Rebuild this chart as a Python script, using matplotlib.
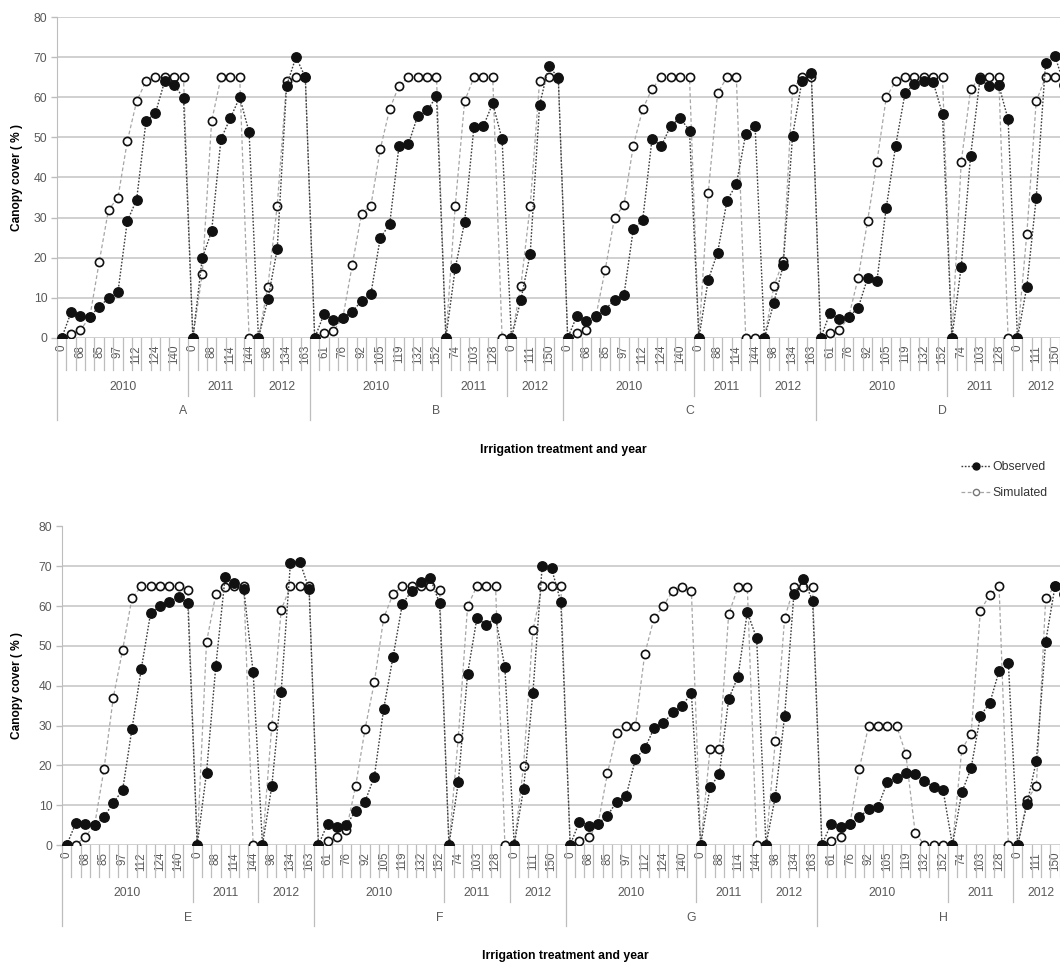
import matplotlib
matplotlib.use("Agg")
import matplotlib.pyplot as plt
import matplotlib.transforms as mtransforms
from matplotlib.lines import Line2D

plt.rcParams['font.family'] = ['Liberation Sans', 'DejaVu Sans']

# days after sowing for each season (categories)
days_2010 = [0, 61, 68, 76, 85, 92, 97, 105, 112, 119, 124, 132, 140, 152]
days_2011 = [0, 74, 88, 103, 114, 128, 144]
days_2012 = [0, 98, 111, 134, 150, 163]
years = ['2010', '2011', '2012']

top_treatments = ['A', 'B', 'C', 'D']
bottom_treatments = ['E', 'F', 'G', 'H']

# canopy cover (%): 2010 | 2011 | 2012
obs_A = [0, 6.4, 5.6, 5.3, 7.8, 9.9, 11.4, 29.1, 34.5, 54.1, 56.0, 64.1, 63.1, 59.8,
         0, 19.9, 26.6, 49.6, 54.8, 60.0, 51.3,
         0, 9.6, 22.1, 62.9, 70.0, 65.0]
sim_A = [0, 1.0, 2.0, 5.2, 18.9, 32.0, 34.9, 49.0, 59.0, 64.0, 65, 65, 65, 65,
         0, 16.0, 54.0, 65, 65, 65, 0,
         0, 12.8, 32.9, 64.0, 65, 65]
obs_B = [0, 6.0, 4.5, 5.0, 6.6, 9.2, 11.0, 25.0, 28.3, 47.9, 48.3, 55.4, 56.7, 60.2,
         0, 17.4, 28.9, 52.7, 52.8, 58.5, 49.5,
         0, 9.5, 21.0, 58.1, 67.8, 64.8]
sim_B = [0, 1.2, 1.8, 5.0, 18.1, 31.0, 33.0, 47.1, 57.0, 62.9, 65, 65, 65, 65,
         0, 33.0, 59.0, 65, 65, 65, 0,
         0, 12.9, 33.0, 64.0, 65, 65]
obs_C = [0, 5.6, 4.2, 5.6, 7.1, 9.5, 10.6, 27.1, 29.3, 49.6, 47.9, 52.9, 54.8, 51.7,
         0, 14.5, 21.3, 34.2, 38.3, 50.8, 52.9,
         0, 8.8, 18.1, 50.4, 64.1, 66.0]
sim_C = [0, 1.2, 2.0, 5.3, 17.0, 30.0, 33.1, 47.9, 57.0, 62.1, 65, 65, 65, 65,
         0, 36.2, 61.0, 65, 65, 0, 0,
         0, 12.9, 19.2, 62.0, 65, 65]
obs_D = [0, 6.3, 4.8, 5.3, 7.5, 14.9, 14.3, 32.5, 47.9, 61.0, 63.3, 64.0, 63.8, 55.8,
         0, 17.8, 45.4, 64.5, 62.7, 63.1, 54.5,
         0, 12.8, 34.9, 68.5, 70.3, 63.0]
sim_D = [0, 1.2, 2.0, 5.3, 15.0, 29.1, 43.9, 60.0, 64.0, 65, 65, 65, 65, 65,
         0, 43.9, 62.0, 65, 65, 65, 0,
         0, 26.0, 59.0, 65, 65, 65]
obs_E = [0, 5.6, 5.4, 4.9, 7.0, 10.6, 13.8, 29.1, 44.2, 58.2, 60.0, 61.1, 62.2, 60.7,
         0, 18.2, 45.0, 67.4, 65.7, 64.2, 43.4,
         0, 14.8, 38.4, 70.9, 71.2, 64.3]
sim_E = [0, 0, 2.1, 5.0, 19.0, 37.0, 49.0, 62.0, 65, 65, 65, 65, 65, 64.0,
         0, 51.0, 63.0, 64.7, 65, 65, 0,
         0, 30.0, 59.0, 65, 65, 65]
obs_F = [0, 5.4, 4.6, 5.0, 8.6, 10.9, 17.2, 34.2, 47.2, 60.5, 63.8, 66.0, 67.0, 60.7,
         0, 15.7, 43.0, 57.0, 55.3, 57.1, 44.6,
         0, 14.1, 38.1, 70.1, 69.5, 61.0]
sim_F = [0, 1.1, 1.9, 3.8, 14.9, 29.1, 40.9, 57.0, 63.0, 65, 65, 65, 65, 64.0,
         0, 27.0, 60.0, 65, 65, 65, 0,
         0, 19.9, 53.9, 65, 65, 65]
obs_G = [0, 5.9, 4.8, 5.4, 7.4, 10.9, 12.3, 21.6, 24.3, 29.3, 30.6, 33.3, 35.0, 38.1,
         0, 14.5, 17.8, 36.7, 42.3, 58.5, 51.9,
         0, 12.1, 32.4, 63.1, 66.8, 61.4]
sim_G = [0, 1.1, 1.9, 5.4, 18.0, 28.1, 29.9, 29.9, 48.0, 57.0, 60.0, 63.9, 64.7, 63.9,
         0, 24.0, 24.0, 58.0, 64.7, 64.7, 0,
         0, 26.0, 57.0, 64.7, 64.7, 64.7]
obs_H = [0, 5.4, 4.6, 5.3, 7.0, 9.0, 9.6, 15.7, 16.9, 18.2, 17.8, 16.2, 14.5, 13.7,
         0, 13.2, 19.3, 32.5, 35.6, 43.7, 45.6,
         0, 10.3, 21.2, 51.1, 65.0, 63.0]
sim_H = [0, 1.1, 2.1, 5.3, 19.0, 29.9, 30.0, 30.0, 30.0, 22.9, 3.1, 0, 0, 0,
         0, 24.0, 27.9, 58.9, 62.8, 65.0, 0,
         0, 11.3, 14.9, 62.0, 65.0, 65.0]

GRAY_TXT = '#595959'
GRID = '#c8c8c8'
SEP = '#bdbdbd'

season_days = [days_2010, days_2011, days_2012]
block_days = days_2010 + days_2011 + days_2012
n_block = len(block_days)


def draw_panel(ax, treatments, obs_list, sim_list, ylab_x):
    obs = sum(obs_list, [])
    sim = sum(sim_list, [])
    x = list(range(len(obs)))
    n = len(x)

    ax.plot(x, sim, linestyle=(0, (3, 2)), color='#a6a6a6', lw=0.9,
            marker='o', ms=5.9, mfc='white', mec='#111111', mew=1.2, zorder=3)
    ax.plot(x, obs, linestyle=(0, (1.2, 1.2)), color='#3c3c3c', lw=1.0,
            marker='o', ms=6.8, mfc='#111111', mec='#111111', zorder=4)

    ax.set_xlim(-0.5, n - 0.5)
    ax.set_ylim(0, 80)
    ax.set_yticks(range(0, 81, 10))
    ax.tick_params(axis='y', colors=SEP, labelcolor=GRAY_TXT, labelsize=8.8,
                   length=4, width=1, pad=3)
    ax.yaxis.grid(True, color=GRID, lw=1.2)
    ax.set_axisbelow(True)
    for s in ['top', 'right', 'bottom']:
        ax.spines[s].set_visible(False)
    ax.spines['left'].set_color(SEP)

    all_days = block_days * len(treatments)
    ax.set_xticks(x[::2])
    ax.set_xticklabels([str(all_days[i]) for i in x[::2]], rotation=90,
                       fontsize=8.4, color=GRAY_TXT)
    ax.tick_params(axis='x', length=0, pad=5)

    ax.set_ylabel('Canopy cover ( % )', fontsize=8.6, fontweight='bold')
    ax.yaxis.set_label_coords(ylab_x, 0.5)

    trans = mtransforms.blended_transform_factory(ax.transData, ax.transAxes)
    # boundaries: short ones between days, longer between years, longest between treatments
    year_bounds = set()
    treat_bounds = set()
    for t in range(len(treatments)):
        start = t * n_block
        treat_bounds.add(start)
        pos = start
        for d in season_days[:-1]:
            pos += len(d)
            year_bounds.add(pos)
    treat_bounds.add(n)
    for b in range(n + 1):
        xb = b - 0.5
        if b in treat_bounds:
            y_end = -0.255
        elif b in year_bounds:
            y_end = -0.18
        else:
            y_end = -0.1
        ax.plot([xb, xb], [0, y_end], color=SEP, lw=0.9, transform=trans,
                clip_on=False, zorder=1)

    for t, name in enumerate(treatments):
        start = t * n_block
        pos = start
        for yr, d in zip(years, season_days):
            mid = pos + (len(d) - 1) / 2
            ax.text(mid, -0.152, yr, transform=trans, ha='center', va='center',
                    fontsize=8.8, color=GRAY_TXT)
            pos += len(d)
        ax.text(start + (n_block - 1) / 2, -0.228, name, transform=trans,
                ha='center', va='center', fontsize=8.8, color=GRAY_TXT)

    ax.text(0.5, -0.35, 'Irrigation treatment and year', transform=ax.transAxes,
            ha='center', va='center', fontsize=8.8, fontweight='bold')


fig = plt.figure(figsize=(10.6, 9.63), dpi=100)
ax_top = fig.add_axes([57 / 1060, 1 - 338 / 963, 1012 / 1060, 321 / 963])
ax_bot = fig.add_axes([62 / 1060, 1 - 845 / 963, 1007 / 1060, 318.5 / 963])

draw_panel(ax_top, top_treatments, [obs_A, obs_B, obs_C, obs_D],
           [sim_A, sim_B, sim_C, sim_D], -0.034)
draw_panel(ax_bot, bottom_treatments, [obs_E, obs_F, obs_G, obs_H],
           [sim_E, sim_F, sim_G, sim_H], -0.039)

handles = [
    Line2D([], [], linestyle=(0, (1.2, 1.2)), color='#3c3c3c', lw=1.0, marker='o',
           ms=5, mfc='#111111', mec='#111111'),
    Line2D([], [], linestyle=(0, (3, 2)), color='#a6a6a6', lw=0.9, marker='o',
           ms=4.5, mfc='white', mec='#777777', mew=1.0),
]
fig.legend(handles, ['Observed', 'Simulated'], loc='upper left',
           bbox_to_anchor=(950 / 1060, 1 - 450 / 963), frameon=False,
           fontsize=8.8, handlelength=2.4, handletextpad=0.2, labelspacing=1.15,
           labelcolor='#333333')

fig.savefig('out.png', dpi=100)
